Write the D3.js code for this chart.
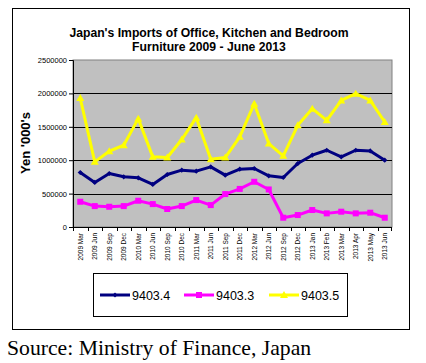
<!DOCTYPE html>
<html>
<head>
<meta charset="utf-8">
<script src="https://cdn.jsdelivr.net/npm/d3@7"></script>
<style>
  body { margin: 0; background: #fff; }
  svg { display: block; }
</style>
</head>
<body>
<div id="chart"></div>
<script>
// months on the x axis
var months = ["2009 Mar", "2009 Jun", "2009 Sep", "2009 Dec", "2010 Mar", "2010 Jun",
	"2010 Sep", "2010 Dec", "2011 Mar", "2011 Jun", "2011 Sep", "2011 Dec",
	"2012 Mar", "2012 Jun", "2012 Sep", "2012 Dec", "2013 Jan", "2013 Feb",
	"2013 Mar", "2013 Apr", "2013 May", "2013 Jun"];

// Yen '000s
var hs94034 = [816000, 667000, 801000, 751000, 736000, 637000, 786000, 851000, 836000, 900000, 776000, 866000,
	876000, 766000, 741000, 950000, 1075000, 1149000, 1050000, 1149000, 1139000, 1000000];
var hs94033 = [378000, 313000, 303000, 313000, 393000, 343000, 269000, 313000, 403000, 328000, 493000, 570000,
	677000, 562000, 139000, 179000, 254000, 204000, 229000, 204000, 214000, 139000];
var hs94035 = [1930000, 975000, 1134000, 1224000, 1622000, 1050000, 1040000, 1309000, 1637000, 1015000, 1040000, 1350000,
	1846000, 1249000, 1065000, 1522000, 1771000, 1597000, 1895000, 1995000, 1895000, 1572000];

var yTicks = [0, 500000, 1000000, 1500000, 2000000, 2500000];

var series = [
	{ name: "9403.4", values: hs94034, color: "#000080", marker: "diamond" },
	{ name: "9403.3", values: hs94033, color: "#ff00ff", marker: "square" },
	{ name: "9403.5", values: hs94035, color: "#ffff00", marker: "triangle" }
];

var W = 426, H = 363;
var plot = { left: 73, right: 392, top: 60, bottom: 227 };

var svg = d3.select("#chart").append("svg")
	.attr("width", W)
	.attr("height", H);

// outer frame
svg.append("rect")
	.attr("x", 12.5).attr("y", 8.5)
	.attr("width", 397).attr("height", 321)
	.attr("fill", "#fff").attr("stroke", "#000").attr("stroke-width", 1);

// title
var title = svg.append("text")
	.attr("text-anchor", "middle")
	.attr("font-family", "Liberation Sans, Arial, sans-serif")
	.attr("font-weight", "bold")
	.attr("font-size", 12.2);
title.append("tspan").attr("x", 209).attr("y", 37).text("Japan's Imports of Office, Kitchen and Bedroom");
title.append("tspan").attr("x", 209).attr("y", 50.5).text("Furniture 2009 - June 2013");

var x = d3.scaleBand()
	.domain(months)
	.range([plot.left, plot.right]);

var y = d3.scaleLinear()
	.domain([0, 2500000])
	.range([plot.bottom, plot.top]);

// plot background
svg.append("rect")
	.attr("x", plot.left).attr("y", plot.top)
	.attr("width", plot.right - plot.left).attr("height", plot.bottom - plot.top)
	.attr("fill", "#c0c0c0").attr("stroke", "#808080").attr("stroke-width", 1);

// gridlines
svg.append("g").selectAll("line")
	.data(yTicks.slice(1, -1))
	.enter().append("line")
	.attr("x1", plot.left).attr("x2", plot.right)
	.attr("y1", function(d) { return Math.round(y(d)) + 0.5; })
	.attr("y2", function(d) { return Math.round(y(d)) + 0.5; })
	.attr("stroke", "#000").attr("stroke-width", 1);

// y axis
var yAxis = svg.append("g")
	.attr("transform", "translate(" + plot.left + ",0)")
	.call(d3.axisLeft(y).tickValues(yTicks).tickSize(4).tickPadding(2).tickFormat(d3.format("d")));
yAxis.select(".domain").attr("stroke", "#000");
yAxis.selectAll("text")
	.attr("font-family", "Liberation Sans, Arial, sans-serif")
	.attr("font-size", 7.5)
	.attr("fill", "#000");

// x axis: ticks at category boundaries
var xAxisG = svg.append("g");
xAxisG.append("line")
	.attr("x1", plot.left).attr("x2", plot.right)
	.attr("y1", plot.bottom + 0.5).attr("y2", plot.bottom + 0.5)
	.attr("stroke", "#000");
xAxisG.selectAll(".tick")
	.data(months)
	.enter().append("line")
	.attr("x1", function(d) { return Math.round(x(d)) + 0.5; })
	.attr("x2", function(d) { return Math.round(x(d)) + 0.5; })
	.attr("y1", plot.bottom).attr("y2", plot.bottom + 4)
	.attr("stroke", "#000");
xAxisG.append("line")
	.attr("x1", plot.right - 0.5).attr("x2", plot.right - 0.5)
	.attr("y1", plot.bottom).attr("y2", plot.bottom + 4)
	.attr("stroke", "#000");
xAxisG.selectAll("text")
	.data(months)
	.enter().append("text")
	.attr("transform", function(d) {
		return "translate(" + (x(d) + x.bandwidth() / 2 + 2.3) + "," + (plot.bottom + 6) + ") rotate(-90)";
	})
	.attr("text-anchor", "end")
	.attr("font-family", "Liberation Sans, Arial, sans-serif")
	.attr("font-size", 6.5)
	.attr("fill", "#000")
	.text(function(d) { return d; });

// y axis title
svg.append("text")
	.attr("transform", "translate(30,143) rotate(-90)")
	.attr("text-anchor", "middle")
	.attr("font-family", "Liberation Sans, Arial, sans-serif")
	.attr("font-weight", "bold")
	.attr("font-size", 13)
	.text("Yen '000's");

var line = d3.line()
	.x(function(d, i) { return x(months[i]) + x.bandwidth() / 2; })
	.y(function(d) { return y(d); });

function markerPath(type) {
	if (type == "diamond") return "M0,-2.6L2.6,0L0,2.6L-2.6,0Z";
	if (type == "square") return "M-3,-3H3V3H-3Z";
	return "M0,-4L4,3H-4Z";
}

series.forEach(function(s) {
	var g = svg.append("g");
	g.append("path")
		.attr("d", line(s.values))
		.attr("fill", "none")
		.attr("stroke", s.color)
		.attr("stroke-width", 3)
		.attr("stroke-linejoin", "round");
	g.selectAll("path.m")
		.data(s.values)
		.enter().append("path")
		.attr("class", "m")
		.attr("transform", function(d, i) {
			return "translate(" + (x(months[i]) + x.bandwidth() / 2) + "," + y(d) + ")";
		})
		.attr("d", markerPath(s.marker))
		.attr("fill", s.color);
});

// legend
svg.append("rect")
	.attr("x", 93.5).attr("y", 273.5)
	.attr("width", 254).attr("height", 43)
	.attr("fill", "#fff").attr("stroke", "#000");

var legendX = [100, 184, 269];
series.forEach(function(s, i) {
	var lx = legendX[i];
	svg.append("line")
		.attr("x1", lx).attr("x2", lx + 30)
		.attr("y1", 295).attr("y2", 295)
		.attr("stroke", s.color).attr("stroke-width", 3);
	svg.append("path")
		.attr("transform", "translate(" + (lx + 15) + ",295)")
		.attr("d", markerPath(s.marker))
		.attr("fill", s.color);
	svg.append("text")
		.attr("x", lx + 32).attr("y", 299.5)
		.attr("font-family", "Liberation Sans, Arial, sans-serif")
		.attr("font-size", 12.5)
		.text(s.name);
});

// source note
svg.append("text")
	.attr("x", 7).attr("y", 355)
	.attr("font-family", "Liberation Serif, Times New Roman, serif")
	.attr("font-size", 21.7)
	.text("Source: Ministry of Finance, Japan");
</script>
</body>
</html>
